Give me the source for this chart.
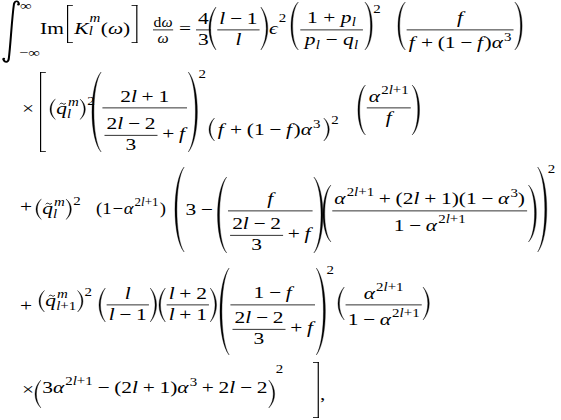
<!DOCTYPE html>
<html>
<head>
<meta charset="utf-8">
<script src="https://cdn.jsdelivr.net/npm/chart.js@4.4.1/dist/chart.umd.min.js"></script>
<style>
  html, body { margin: 0; padding: 0; background: #fff; }
  #eq { display: block; }
  #eq text { font-family: "Liberation Serif", "Times New Roman", serif; fill: #000; }
</style>
</head>
<body>
<svg id="eq" width="561" height="420" viewBox="0 0 561 420" xmlns="http://www.w3.org/2000/svg"></svg>
<script>
// sizes of the type (px) and the horizontal stretch of the picture
const FS = 16.5, SS = 11.5, LS = 12.5;
const AXIS = 4.1;
const SX = 1.3;
const FAM = '"Liberation Serif", "Times New Roman", serif';

const ctx = document.createElement('canvas').getContext('2d');
const out = [];

function esc(s) { return s.replace(/&/g, '&amp;').replace(/</g, '&lt;'); }
function f2(v) { return v.toFixed(2); }

// --- boxes: w, h (above baseline), d (below), draw(x, baseline) ---
function glyph(str, size, italic) {
    ctx.font = (italic ? 'italic ' : '') + size + 'px ' + FAM;
    const mt = ctx.measureText(str);
    return {
        w: mt.width, h: mt.actualBoundingBoxAscent, d: mt.actualBoundingBoxDescent,
        draw(x, y) {
            out.push('<text x="' + f2(x) + '" y="' + f2(y) + '" font-size="' + size + '"' +
                (italic ? ' font-style="italic"' : '') + '>' + esc(str) + '</text>');
        }
    };
}
function R(str, size = FS) { return glyph(str, size, false); }
function sp(w) { return { w, h: 0, d: 0, draw() {} }; }
function row(...items) {
    let w = 0, h = 0, d = 0;
    items.forEach(b => { w += b.w; h = Math.max(h, b.h); d = Math.max(d, b.d); });
    return { w, h, d, draw(x, y) { let cx = x; items.forEach(b => { b.draw(cx, y); cx += b.w; }); } };
}
function bin(op, s = 3.6) { return row(sp(s), R(op), sp(s)); }
// narrower copy of a box
function squeeze(b, k) {
    return {
        w: b.w * k, h: b.h, d: b.d,
        draw(x, y) {
            out.push('<g transform="translate(' + f2(x) + ',0) scale(' + k + ',1) translate(' + f2(-x) + ',0)">');
            b.draw(x, y);
            out.push('</g>');
        }
    };
}

// letters in italic, the rest upright, spaced binary signs at full size
function T(str, size = FS) {
    const chars = Array.from(str);
    const items = [];
    chars.forEach((ch, k) => {
        if ('+−='.includes(ch) && size === FS) { items.push(bin(ch)); return; }
        const it = /[A-Za-z\u03b1-\u03c9\u03f5]/.test(ch);
        items.push(glyph(ch, size, it));
        if (ch === 'f' && k < chars.length - 1 && !/[A-Za-z]/.test(chars[k + 1])) items.push(sp(1.2));
    });
    return row(...items);
}

function sup(base, e, shift, gap = 0.8) {
    const s = shift !== undefined ? shift : Math.max(7.5, base.h - e.h + 2);
    return {
        w: base.w + e.w + gap, h: Math.max(base.h, s + e.h), d: Math.max(base.d, e.d - s),
        draw(x, y) { base.draw(x, y); e.draw(x + base.w + gap, y - s); }
    };
}
function sub(base, s, dn = 3.5) {
    return {
        w: base.w + s.w + 0.3, h: base.h, d: Math.max(base.d, s.d + dn),
        draw(x, y) { base.draw(x, y); s.draw(x + base.w + 0.2, y + dn); }
    };
}
function ssup(base, e, s, up = 7.5, dn = 4) {
    return {
        w: base.w + Math.max(e.w + 0.8, s.w + 0.2) + 0.4, h: Math.max(base.h, up + e.h), d: Math.max(base.d, dn + s.d),
        draw(x, y) { base.draw(x, y); e.draw(x + base.w + 0.8, y - up); s.draw(x + base.w + 0.2, y + dn); }
    };
}

function frac(n, dd, o = {}) {
    const gn = o.gn ?? 3, gd = o.gd ?? 3.5, pad = o.pad ?? 1.6;
    const w = Math.max(n.w, dd.w) + 2 * pad;
    const ns = Math.max(o.ns ?? 10, AXIS + gn + n.d);
    const ds = Math.max(o.ds ?? 11.5, gd + dd.h - AXIS);
    return {
        w, h: ns + n.h, d: ds + dd.d,
        draw(x, y) {
            n.draw(x + (w - n.w) / 2, y - ns);
            dd.draw(x + (w - dd.w) / 2, y + ds);
            out.push('<rect x="' + f2(x) + '" y="' + f2(y - AXIS - 0.4) + '" width="' + f2(w) + '" height="0.8" fill="#000"/>');
        }
    };
}

function delimW(type, H) {
    if (type === '(' || type === ')') return Math.min(7, 3 + H * 0.055);
    if (type === '[' || type === ']') return 4.5;
    return 0;
}
function drawDelim(type, x, top, bot) {
    const H = bot - top, W = delimW(type, H);
    if (type === '(' || type === ')') {
        const t = Math.min(1.5, 0.8 + H * 0.01), k = H > 45 ? 0.17 : 0.28;
        const co = -W / 3, ci = (t - W / 4) * 4 / 3;
        const P = type === '(' ? (u => x + u) : (u => x + W - u);
        out.push('<path d="M' + f2(P(W)) + ',' + f2(top) +
            ' C' + f2(P(co)) + ',' + f2(top + k * H) + ' ' + f2(P(co)) + ',' + f2(bot - k * H) + ' ' + f2(P(W)) + ',' + f2(bot) +
            ' C' + f2(P(ci)) + ',' + f2(bot - k * H) + ' ' + f2(P(ci)) + ',' + f2(top + k * H) + ' ' + f2(P(W)) + ',' + f2(top) +
            ' Z" fill="#000" stroke="#000" stroke-width="0.3"/>');
    } else if (type === '[' || type === ']') {
        const th = 0.9, bx = type === '[' ? x : x + W - th;
        out.push('<rect x="' + f2(bx) + '" y="' + f2(top) + '" width="' + th + '" height="' + f2(H) + '" fill="#000"/>');
        out.push('<rect x="' + f2(x) + '" y="' + f2(top) + '" width="' + W + '" height="0.8" fill="#000"/>');
        out.push('<rect x="' + f2(x) + '" y="' + f2(bot - 0.8) + '" width="' + W + '" height="0.8" fill="#000"/>');
    }
}
function fence(c, l, r, o = {}) {
    const pad = o.pad ?? 2, gap = o.gap ?? 1;
    const top = o.h ?? (c.h + pad), bot = o.d ?? (c.d + pad);
    const lw = delimW(l, top + bot), rw = delimW(r, top + bot);
    return {
        w: lw + gap + c.w + gap + rw, h: top, d: bot,
        draw(x, y) {
            drawDelim(l, x, y - top, y + bot);
            c.draw(x + lw + gap, y);
            drawDelim(r, x + lw + gap + c.w + gap, y - top, y + bot);
        }
    };
}

// q with a tilde over it
function qt() {
    const q = glyph('q', FS, true);
    return {
        w: q.w, h: q.h + 4, d: q.d,
        draw(x, y) {
            q.draw(x, y);
            const tx = x + q.w / 2 - 1.4, ty = y - q.h - 2.6;
            out.push('<path d="M' + f2(tx) + ',' + f2(ty + 0.9) + ' c0.8,-1.4 1.7,-1.3 2.4,-0.6 c0.7,0.7 1.6,0.8 2.3,-0.6" fill="none" stroke="#000" stroke-width="0.75"/>');
        }
    };
}
function integral(x, top, bot) {
    const H = bot - top, Y = v => f2(top + v * H / 63);
    out.push('<path d="M' + f2(x + 13) + ',' + Y(4.2) + ' C' + f2(x + 12.6) + ',' + Y(0.6) + ' ' + f2(x + 10.2) + ',' + Y(0.2) + ' ' + f2(x + 9.2) + ',' + Y(4) +
        ' C' + f2(x + 7.6) + ',' + Y(18) + ' ' + f2(x + 6.6) + ',' + Y(45) + ' ' + f2(x + 5.2) + ',' + Y(59) +
        ' C' + f2(x + 4.6) + ',' + Y(62.6) + ' ' + f2(x + 2.2) + ',' + Y(63) + ' ' + f2(x + 1) + ',' + Y(59.2) +
        '" fill="none" stroke="#000" stroke-width="1.55" stroke-linecap="round"/>');
    out.push('<circle cx="' + f2(x + 12.6) + '" cy="' + Y(4.4) + '" r="1" fill="#000"/>');
    out.push('<circle cx="' + f2(x + 1.4) + '" cy="' + Y(58.8) + '" r="1" fill="#000"/>');
}

function place(b, x, y) { b.draw(x / SX, y); }

// small pieces used again and again
const pl = ch => sub(T(ch), T('l', SS), 3.5);
const a3 = () => sup(T('α'), R('3', SS), 7);
const a2l = () => sup(T('α'), T('2l+1', SS), 7.5);
const sq = () => R('2', SS);
const qlm = (lo, up, dn) => fence(ssup(qt(), T('m', SS), T(lo, SS), up, dn), '(', ')', { pad: 1.5, gap: 0.6 });
const lowerFrac = (num, gd) => frac(num, row(frac(T('2l−2'), R('3'), { ns: 10.5, ds: 11 }), bin('+'), T('f')), { gd });

// --- line 1 ---
integral(2 / SX, 0, 63);
place(R('∞', LS), 20, 10);
place(T('−∞', LS), 19, 57);
place(R('Im'), 40, 34);
place(fence(row(ssup(T('K'), T('m', SS), T('l', SS), 12, 1.5), R('('), T('ω'), R(')')), '[', ']', { h: 29, d: 9 }), 67, 34);
place(squeeze(frac(row(R('d', 15.5), T('ω', 15.5)), T('ω', 15.5), { ns: 7, ds: 9.5, pad: 0.6 }), 0.78), 153, 34);
place(R('='), 179, 34);
place(frac(R('4'), R('3')), 196, 34);
place(fence(frac(T('l−1'), T('l')), '(', ')', { h: 27, d: 16 }), 209, 34);
place(sup(T('ϵ'), sq(), 12), 269, 34);
place(sup(fence(frac(row(R('1'), bin('+', 4.2), pl('p')), row(pl('p'), bin('−', 4.2), pl('q')), { pad: 3.5 }), '(', ')', { h: 32, d: 16, gap: 1.5 }), sq(), 21), 291, 34);
place(fence(frac(T('f'), row(T('f+(1−f)'), a3())), '(', ')', { h: 32, d: 16 }), 398, 34);

// --- line 2 ---
place(R('×'), 22, 114);
drawDelim('[', 40 / SX, 72, 152);
place(sup(qlm('l', 7.5, 4), sq(), undefined, 1.5), 50, 114);
place(sup(fence(lowerFrac(T('2l+1'), 9), '(', ')', { h: 40, d: 40 }), sq()), 92, 112);
place(sup(fence(row(sp(1.5), T('f+(1−f)'), a3(), sp(1.5)), '(', ')'), sq(), undefined, 1.5), 209, 135);
place(fence(frac(a2l(), T('f')), '(', ')', { h: 27, d: 23 }), 358, 112);

// --- line 3 ---
place(R('+'), 20, 212);
place(sup(qlm('l', 7.5, 4), sq(), undefined, 1.5), 36, 214);
place(squeeze(row(R('(1'), sp(0.8), R('−'), sp(0.8), a2l(), sp(1), R(')')), 0.87), 96, 214);
const fA = fence(lowerFrac(T('f'), 6), '(', ')', { h: 38, d: 38 });
const fB = fence(frac(row(a2l(), bin('+'), T('(2l+1)(1−'), a3(), R(')')), row(R('1'), bin('−'), a2l())), '(', ')', { h: 30, d: 27 });
place(sup(fence(row(R('3'), bin('−'), fA, fB), '(', ')', { h: 48, d: 37 }), sq()), 175, 215);

// --- line 4 ---
place(R('+'), 20, 311);
place(sup(qlm('l+1', 8, 4.5), sq(), undefined, 1.2), 39, 306);
place(fence(frac(T('l'), T('l−1')), '(', ')', { h: 21, d: 13 }), 99, 309);
place(fence(frac(T('l+2'), T('l+1')), '(', ')', { h: 21, d: 13 }), 159, 309);
place(sup(fence(lowerFrac(T('1−f'), 6), '(', ')', { h: 41, d: 46 }), sq()), 220, 309);
place(fence(frac(a2l(), row(R('1'), bin('−'), a2l())), '(', ')', { h: 22, d: 11 }), 338, 309);

// --- line 5 ---
place(R('×'), 22, 395);
place(sup(fence(row(R('3'), a2l(), bin('−'), T('(2l+1)'), a3(), bin('+'), T('2l'), bin('−'), R('2')), '(', ')', { h: 13, d: 15 }), sq(), 20), 35, 393);
drawDelim(']', 313 / SX, 362, 418);
place(R(','), 320, 400);

document.getElementById('eq').innerHTML = '<g transform="scale(' + SX + ',1)">' + out.join('') + '</g>';
</script>
</body>
</html>
